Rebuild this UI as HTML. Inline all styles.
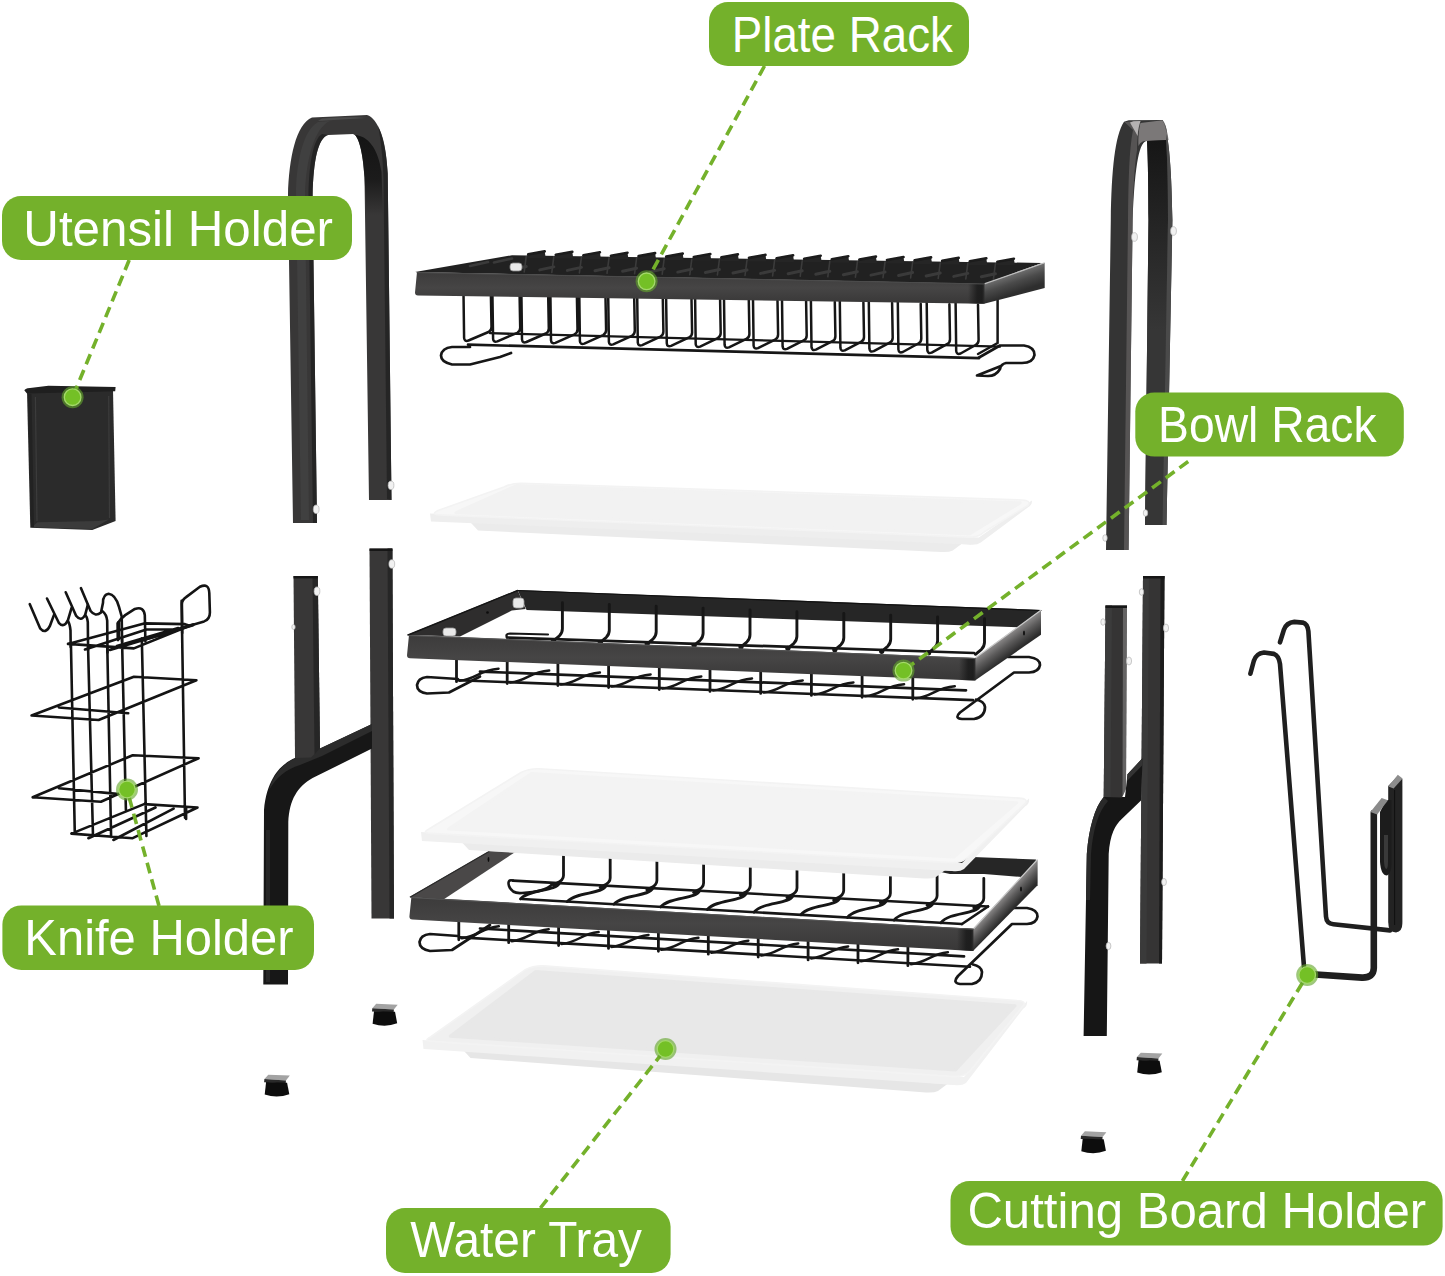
<!DOCTYPE html>
<html lang="en"><head><meta charset="utf-8"><title>Dish Rack Parts</title>
<style>
html,body{margin:0;padding:0;background:#fff;}
body{width:1445px;height:1276px;overflow:hidden;font-family:"Liberation Sans",sans-serif;}
svg{display:block;}
svg text{font-family:"Liberation Sans",sans-serif;fill:#fff;}
</style></head><body>
<svg width="1445" height="1276" viewBox="0 0 1445 1276">
<defs>
<linearGradient id="gBand" x1="0" y1="0" x2="0" y2="1"><stop offset="0" stop-color="#3c3b3b"/><stop offset="0.5" stop-color="#464545"/><stop offset="1" stop-color="#383737"/></linearGradient>
<linearGradient id="gCorner" x1="0" y1="0" x2="1" y2="0"><stop offset="0" stop-color="#1a1a1a" stop-opacity="0"/><stop offset="0.55" stop-color="#1a1a1a" stop-opacity="0.85"/><stop offset="0.85" stop-color="#1a1a1a" stop-opacity="0.9"/><stop offset="1" stop-color="#2a2a2a" stop-opacity="0.7"/></linearGradient>
</defs>
<g id="archL">
<path d="M353,134 C360,136 366,150 368,178 L371,230 L386,230 L386,160 C383,135 374,120 366,116 Z" fill="#1b1b1b"/>
<path d="M293,523 L288,195 C289,158 296,124 312,117.4 L367,115 C378,118 386,140 387.7,173.6 L391.5,500 L369,500 L364.5,177.5 C363,150 358,135 353.3,133.9 L328,134.9 C318,138 313.5,160 312.6,195 L317,523 Z" fill="#383737"/>
<path d="M296,190 C297,158 304,130 318,122 L330,121 C314,128 306,160 305,195 L309,520 L301,520 Z" fill="#424242" opacity="0.8"/>
<path d="M312.6,195 C313.5,160 318,138 328,134.9 L322,134 C313,139 309,165 308.5,195 L313,523 L317,523 Z" fill="#1f1f1f" opacity="0.8"/>
<path d="M383.5,180 L387,499 L391.5,500 L387.7,173.6 C386.5,150 383,135 378,126 C381,140 383,160 383.5,180 Z" fill="#242424" opacity="0.9"/>
<path d="M318,121 L366,118 C360,117 340,117 322,118.5 Z" fill="#555" opacity="0.7"/>
<linearGradient id="gInL" gradientUnits="userSpaceOnUse" x1="0" y1="135" x2="0" y2="215"><stop offset="0" stop-color="#141414" stop-opacity="1"/><stop offset="0.55" stop-color="#141414" stop-opacity="0.8"/><stop offset="1" stop-color="#141414" stop-opacity="0"/></linearGradient>
<path d="M355,135 C368,136 378,148 381.5,172 L383,215 L366.5,215 L364.5,177.5 C363,152 359,139 355,135 Z" fill="url(#gInL)"/>
</g>
<ellipse cx="316.2" cy="509.3" rx="2.9" ry="4.3" fill="#f1f1f1" stroke="#b5b5b5" stroke-width="0.7"/>
<ellipse cx="391" cy="485.3" rx="2.9" ry="4.3" fill="#f1f1f1" stroke="#b5b5b5" stroke-width="0.7"/>
<g id="archR">
<path d="M1106,550 L1110.8,220 C1111.5,170 1115,135 1124,121.8 L1128.8,120.3 L1162.7,119.9 C1168,130 1171.5,160 1172.4,220 L1166.5,525 L1145,525 L1148.5,220 C1148.3,180 1148,160 1147,141 C1140,141 1135,160 1132.6,220 L1128.6,550 Z" fill="#343434"/>
<path d="M1140.5,123 L1162.5,120.3 C1166,126 1168,134 1168.5,140 L1146.2,141 C1142,141 1140,143 1138.5,146 C1138,138 1139,128 1140.5,123 Z" fill="#7b7878"/>
<path d="M1124.5,122 L1140.5,121 C1138,130 1137,140 1137,150 C1134.5,165 1133,190 1132.6,220 L1128.6,550 L1124,550 L1128,220 C1128.5,180 1129,150 1133,130 Z" fill="#5d5b5b" opacity="0.85"/>
<path d="M1133.5,121.3 L1140.5,121 C1139,125 1138,130 1137.6,136 C1135,131 1132,126 1130,122.5 Z" fill="#b5b2b2"/>
<linearGradient id="gInR" gradientUnits="userSpaceOnUse" x1="0" y1="140" x2="0" y2="330"><stop offset="0" stop-color="#161616"/><stop offset="1" stop-color="#363636"/></linearGradient>
<path d="M1147,141 L1166,140 C1167.5,160 1168,190 1168,220 L1162.5,525 L1145,525 L1148.5,220 C1148.3,180 1148,160 1147,141 Z" fill="url(#gInR)"/>
<path d="M1166,140 C1168,130 1166,125 1162.7,119.9 C1168,130 1171.5,160 1172.4,220 L1166.5,525 L1162.5,525 L1168,220 C1168,190 1167.5,160 1166,140 Z" fill="#4a4a4a"/>
</g>
<ellipse cx="1134.5" cy="237" rx="2.9" ry="4.3" fill="#f1f1f1" stroke="#b5b5b5" stroke-width="0.7"/>
<ellipse cx="1173.5" cy="231" rx="2.9" ry="4.3" fill="#f1f1f1" stroke="#b5b5b5" stroke-width="0.7"/>
<ellipse cx="1145.5" cy="513" rx="2.2" ry="3.3" fill="#f1f1f1" stroke="#b5b5b5" stroke-width="0.7"/>
<ellipse cx="1105" cy="538" rx="2.2" ry="3.3" fill="#f1f1f1" stroke="#b5b5b5" stroke-width="0.7"/>
<g id="legL">
<path d="M369.5,548.6 L392.4,548.6 L394,918.6 L371.5,918.6 Z" fill="#383737"/>
<path d="M387.5,548.6 L392.4,548.6 L394,918.6 L389.5,918.6 Z" fill="#262626"/>
<path d="M372,724 L320,748.6 L295,758 C283,763 267,776 264,810 L263.3,984.5 L288,984.5 L288.3,822 C289.5,800 297,787 312.6,778 L372,748.6 Z" fill="#171717"/>
<path d="M372,724 L320,748.6 L296,758 C286,762 274,772 269,790 C276,778 286,769 300,765 L322,756 L372,731 Z" fill="#2c2c2c"/>
<path d="M266,830 L266,982 L270,982 L270,830 Z" fill="#262626"/>
<path d="M293.5,576 L317.8,576 L320,748.6 L311,757.5 L295,758 Z" fill="#383737"/>
<path d="M312.5,576 L317.8,576 L320,748.6 L314.5,754.5 Z" fill="#262626"/>
<path d="M293.5,576 L317.8,576 L317.8,578.4 L293.5,578.4 Z" fill="#161616"/>
<path d="M369.5,548.6 L392.4,548.6 L392.4,551 L369.5,551 Z" fill="#161616"/>
</g>
<ellipse cx="317" cy="591.2" rx="2.9" ry="4.3" fill="#f1f1f1" stroke="#b5b5b5" stroke-width="0.7"/>
<ellipse cx="391.8" cy="564" rx="2.9" ry="4.3" fill="#f1f1f1" stroke="#b5b5b5" stroke-width="0.7"/>
<ellipse cx="293.5" cy="627" rx="1.7" ry="2.5" fill="#f1f1f1" stroke="#b5b5b5" stroke-width="0.7"/>
<g id="legR">
<path d="M1143,576 L1164.5,576 L1162,963.6 L1140,963.6 Z" fill="#353434"/>
<path d="M1143,576 L1149,576 L1146.5,963.6 L1140,963.6 Z" fill="#3a3a3a"/>
<path d="M1160.5,576 L1164.5,576 L1162,963.6 L1159,963.6 Z" fill="#1c1c1c"/>
<path d="M1142.6,758 L1127.5,774.3 L1125,797 L1103.7,797 C1095,807 1089,827 1086.8,854 L1083.6,1036 L1106.8,1036 L1108.7,854 C1110,835 1115,825 1122,818.8 L1141,800.4 Z" fill="#161616"/>
<path d="M1142.6,758 L1127.5,774.3 L1127,781 L1142.6,765 Z" fill="#333"/>
<path d="M1103.7,797 C1095,807 1089,827 1086.8,854 L1086,900 L1090,900 L1091,854 C1093,830 1098,812 1108,801 Z" fill="#2a2a2a"/>
<path d="M1105.5,605.5 L1127,605.5 L1126,789 L1122,797.5 L1103.7,797 Z" fill="#353434"/>
<path d="M1105.5,605.5 L1112,605.5 L1110.5,797 L1103.7,797 Z" fill="#3b3b3b"/>
<path d="M1123,605.5 L1127,605.5 L1126,789 L1122.5,796 Z" fill="#8a8a8a" opacity="0.55"/>
<path d="M1105.5,605.5 L1127,605.5 L1127,608 L1105.5,608 Z" fill="#161616"/>
<path d="M1143,576 L1164.5,576 L1164.5,578.5 L1143,578.5 Z" fill="#161616"/>
</g>
<ellipse cx="1103" cy="622" rx="2.2" ry="3.3" fill="#f1f1f1" stroke="#b5b5b5" stroke-width="0.7"/>
<ellipse cx="1141.5" cy="592" rx="2.2" ry="3.3" fill="#f1f1f1" stroke="#b5b5b5" stroke-width="0.7"/>
<ellipse cx="1166" cy="628" rx="2.6" ry="4" fill="#f1f1f1" stroke="#b5b5b5" stroke-width="0.7"/>
<ellipse cx="1129" cy="661" rx="2.6" ry="4" fill="#f1f1f1" stroke="#b5b5b5" stroke-width="0.7"/>
<ellipse cx="1164" cy="882" rx="2.4" ry="3.6" fill="#f1f1f1" stroke="#b5b5b5" stroke-width="0.7"/>
<ellipse cx="1108.5" cy="946" rx="2.4" ry="3.6" fill="#f1f1f1" stroke="#b5b5b5" stroke-width="0.7"/>
<path d="M376.2,1003.8 l21.5,0.9 l-3.8,4.9 l-21.6,-1.4 z" fill="#a3a3a3"/>
<path d="M372.3,1008.2 l21.6,1.4 l-0.3,3 l-21.6,-1.2 z" fill="#2a2a2a"/>
<path d="M374,1011.2 l21,0.6 l2.2,11.5 q-12,4.5 -24.6,0.4 z" fill="#0d0d0d"/>
<path d="M268.3,1074.7 l21.5,0.9 l-3.8,4.9 l-21.6,-1.4 z" fill="#a3a3a3"/>
<path d="M264.4,1079.1 l21.6,1.4 l-0.3,3 l-21.6,-1.2 z" fill="#2a2a2a"/>
<path d="M266.1,1082.1 l21,0.6 l2.2,11.5 q-12,4.5 -24.6,0.4 z" fill="#0d0d0d"/>
<path d="M1140.8,1052.7 l21.5,0.9 l-3.8,4.9 l-21.6,-1.4 z" fill="#a3a3a3"/>
<path d="M1136.9,1057.1 l21.6,1.4 l-0.3,3 l-21.6,-1.2 z" fill="#2a2a2a"/>
<path d="M1138.6,1060.1 l21,0.6 l2.2,11.5 q-12,4.5 -24.6,0.4 z" fill="#0d0d0d"/>
<path d="M1084.9,1131.3 l21.5,0.9 l-3.8,4.9 l-21.6,-1.4 z" fill="#a3a3a3"/>
<path d="M1081,1135.7 l21.6,1.4 l-0.3,3 l-21.6,-1.2 z" fill="#2a2a2a"/>
<path d="M1082.7,1138.7 l21,0.6 l2.2,11.5 q-12,4.5 -24.6,0.4 z" fill="#0d0d0d"/>
<g id="plateRack">
<path d="M463.5,293 L464.1,338 Q464.5,342 468.5,340.5 L488.5,332 Q491.5,330.5 491.5,327 L490.9,295 M492.4,293.5 L493.1,338.8 Q493.4,342.8 497.4,341.3 L517.2,332.8 Q520.2,331.3 520.2,327.8 L519.6,295.5 M521.4,294.1 L522,339.5 Q522.4,343.5 526.4,342 L545.8,333.5 Q548.8,332 548.8,328.5 L548.2,296.1 M550.4,294.7 L551,340.3 Q551.4,344.3 555.4,342.8 L574.5,334.3 Q577.5,332.8 577.5,329.3 L576.9,296.7 M579.3,295.3 L579.9,341.1 Q580.3,345.1 584.3,343.6 L603.1,335.1 Q606.1,333.6 606.1,330.1 L605.5,297.3 M608.2,295.9 L608.9,341.8 Q609.2,345.8 613.2,344.3 L631.8,335.8 Q634.8,334.3 634.8,330.8 L634.2,297.9 M637.2,296.4 L637.8,342.6 Q638.2,346.6 642.2,345.1 L660.4,336.6 Q663.4,335.1 663.4,331.6 L662.8,298.4 M666.1,297 L666.8,343.4 Q667.1,347.4 671.1,345.9 L689.1,337.4 Q692.1,335.9 692.1,332.4 L691.5,299 M695.1,297.6 L695.7,344.1 Q696.1,348.1 700.1,346.6 L717.7,338.1 Q720.7,336.6 720.7,333.1 L720.1,299.6 M724,298.2 L724.6,344.9 Q725,348.9 729,347.4 L746.4,338.9 Q749.4,337.4 749.4,333.9 L748.8,300.2 M753,298.8 L753.6,345.6 Q754,349.6 758,348.1 L775.1,339.6 Q778.1,338.1 778.1,334.6 L777.5,300.8 M782,299.3 L782.6,346.4 Q783,350.4 787,348.9 L803.7,340.4 Q806.7,338.9 806.7,335.4 L806.1,301.3 M810.9,299.9 L811.5,347.2 Q811.9,351.2 815.9,349.7 L832.4,341.2 Q835.4,339.7 835.4,336.2 L834.8,301.9 M839.8,300.5 L840.4,347.9 Q840.8,351.9 844.8,350.4 L861,341.9 Q864,340.4 864,336.9 L863.4,302.5 M868.8,301.1 L869.4,348.7 Q869.8,352.7 873.8,351.2 L889.7,342.7 Q892.7,341.2 892.7,337.7 L892.1,303.1 M897.8,301.7 L898.4,349.5 Q898.8,353.5 902.8,352 L918.3,343.5 Q921.3,342 921.3,338.5 L920.7,303.7 M926.7,302.2 L927.3,350.2 Q927.7,354.2 931.7,352.7 L947,344.2 Q950,342.7 950,339.2 L949.4,304.2 M955.6,302.8 L956.2,351 Q956.6,355 960.6,353.5 L975.6,345 Q978.6,343.5 978.6,340 L978,304.8" fill="none" stroke="#161616" stroke-width="2.5" stroke-linecap="round" stroke-linejoin="round" />
<path d="M997.6,300 L997.6,343 L978,354" fill="none" stroke="#161616" stroke-width="2.5" stroke-linecap="round" stroke-linejoin="round" />
<path d="M468,344.6 L979,358.1" fill="none" stroke="#161616" stroke-width="2.6" stroke-linecap="round" stroke-linejoin="round" />
<path d="M490,333.2 L1000,346.7" fill="none" stroke="#161616" stroke-width="2.3" stroke-linecap="round" stroke-linejoin="round" />
<path d="M511,353 L500,357 L470,364.5 L452,364.5 Q441,362 441,355.5 Q442,348 452,347 L470,347" fill="none" stroke="#161616" stroke-width="2.7" stroke-linecap="round" stroke-linejoin="round" />
<path d="M979,357.5 L1000,345.5 L1024,345.5 Q1034.5,347 1034.5,355 Q1033,363 1022,363 L1006,363 Q1001,364 1000,369 Q996,376 988,376 L977,375.5 L1001,366" fill="none" stroke="#161616" stroke-width="2.7" stroke-linecap="round" stroke-linejoin="round" />
<polygon points="415,272 512,255.2 1042,263 985,284" fill="#212121" />
<polygon points="527.2,254.4 544.7,251.4 545.7,258 527.2,258" fill="#252525" />
<polygon points="554.8,254.8 572.3,251.8 573.3,258.4 554.8,258.4" fill="#252525" />
<polygon points="582.4,255.3 599.9,252.3 600.9,258.9 582.4,258.9" fill="#252525" />
<polygon points="610,255.7 627.5,252.7 628.5,259.3 610,259.3" fill="#252525" />
<polygon points="637.6,256.1 655.1,253.1 656.1,259.7 637.6,259.7" fill="#252525" />
<polygon points="665.2,256.6 682.7,253.6 683.7,260.2 665.2,260.2" fill="#252525" />
<polygon points="692.8,257 710.3,254 711.3,260.6 692.8,260.6" fill="#252525" />
<polygon points="720.4,257.4 737.9,254.4 738.9,261 720.4,261" fill="#252525" />
<polygon points="748,257.9 765.5,254.9 766.5,261.5 748,261.5" fill="#252525" />
<polygon points="775.6,258.3 793.1,255.3 794.1,261.9 775.6,261.9" fill="#252525" />
<polygon points="803.2,258.7 820.7,255.7 821.7,262.3 803.2,262.3" fill="#252525" />
<polygon points="830.8,259.2 848.3,256.2 849.3,262.8 830.8,262.8" fill="#252525" />
<polygon points="858.4,259.6 875.9,256.6 876.9,263.2 858.4,263.2" fill="#252525" />
<polygon points="886,260 903.5,257 904.5,263.6 886,263.6" fill="#252525" />
<polygon points="913.6,260.4 931.1,257.4 932.1,264 913.6,264" fill="#252525" />
<polygon points="941.2,260.9 958.7,257.9 959.7,264.5 941.2,264.5" fill="#252525" />
<polygon points="968.8,261.3 986.3,258.3 987.3,264.9 968.8,264.9" fill="#252525" />
<polygon points="996.4,261.7 1013.9,258.7 1014.9,265.3 996.4,265.3" fill="#252525" />
<path d="M526.2,256.5 L524.2,272 M553.8,256.9 L551.8,272.4 M581.4,257.4 L579.4,272.9 M609,257.8 L607,273.3 M636.6,258.2 L634.6,273.7 M664.2,258.7 L662.2,274.2 M691.8,259.1 L689.8,274.6 M719.4,259.5 L717.4,275 M747,260 L745,275.5 M774.6,260.4 L772.6,275.9 M802.2,260.8 L800.2,276.3 M829.8,261.3 L827.8,276.8 M857.4,261.7 L855.4,277.2 M885,262.1 L883,277.6 M912.6,262.5 L910.6,278 M940.2,263 L938.2,278.5 M967.8,263.4 L965.8,278.9 M995.4,263.8 L993.4,279.3" fill="none" stroke="#3b3b3b" stroke-width="1.6" stroke-linecap="round" stroke-linejoin="round" />
<path d="M512.2,269.5 L526.2,266.5 M539.8,269.9 L553.8,266.9 M567.4,270.4 L581.4,267.4 M595,270.8 L609,267.8 M622.6,271.2 L636.6,268.2 M650.2,271.7 L664.2,268.7 M677.8,272.1 L691.8,269.1 M705.4,272.5 L719.4,269.5 M733,273 L747,270 M760.6,273.4 L774.6,270.4 M788.2,273.8 L802.2,270.8 M815.8,274.3 L829.8,271.3 M843.4,274.7 L857.4,271.7 M871,275.1 L885,272.1 M898.6,275.5 L912.6,272.5 M926.2,276 L940.2,273 M953.8,276.4 L967.8,273.4 M981.4,276.8 L995.4,273.8" fill="none" stroke="#3a3a3a" stroke-width="3" stroke-linecap="round" stroke-linejoin="round" />
<path d="M528.2,254.4 L544.7,251.4 M555.8,254.8 L572.3,251.8 M583.4,255.3 L599.9,252.3 M611,255.7 L627.5,252.7 M638.6,256.1 L655.1,253.1 M666.2,256.6 L682.7,253.6 M693.8,257 L710.3,254 M721.4,257.4 L737.9,254.4 M749,257.9 L765.5,254.9 M776.6,258.3 L793.1,255.3 M804.2,258.7 L820.7,255.7 M831.8,259.2 L848.3,256.2 M859.4,259.6 L875.9,256.6 M887,260 L903.5,257 M914.6,260.4 L931.1,257.4 M942.2,260.9 L958.7,257.9 M969.8,261.3 L986.3,258.3 M997.4,261.7 L1013.9,258.7" fill="none" stroke="#1c1c1c" stroke-width="2.6" stroke-linecap="round" stroke-linejoin="round" />
<path d="M470,266 L488,262 M494,262.5 L512,258.5" fill="none" stroke="#3a3a3a" stroke-width="2.6" stroke-linecap="round" stroke-linejoin="round" />
<rect x="510" y="263" width="12" height="8" rx="3" fill="#e9e9e9" stroke="#888" stroke-width="0.8"/>
<linearGradient id="sg1" gradientUnits="userSpaceOnUse" x1="1014.4" y1="273.3" x2="1020.5" y2="291.2"><stop offset="0" stop-color="#6e6e6e"/><stop offset="0.45" stop-color="#4a4a4a"/><stop offset="1" stop-color="#2e2e2e"/></linearGradient>
<polygon points="984,283.8 1044.7,262.8 1044.7,288 984,303.8" fill="url(#sg1)" />
<path d="M985,283.6 L1044,263" fill="none" stroke="#bdbdbd" stroke-width="1.3" stroke-linecap="round" stroke-linejoin="round" />
<path d="M417,272 L984,283.6 L984,303.8 L418,295.5 Q415,295.5 415,292.5 Z" fill="url(#gBand)"/>
<path d="M968,283.3 L984.6,283.6 L984.6,303.8 L968,303.5 Z" fill="url(#gCorner)"/>
<path d="M417,272.6 L984,284" fill="none" stroke="#4c4c4c" stroke-width="1" stroke-linecap="round" stroke-linejoin="round" />
</g>
<g>
<path d="M466,517.5 L968.8,538.5 L952.8,550.5 Q948.8,552.5 940.8,552 L478,530.5 Z" fill="#ebebeb"/>
<path d="M430,514.5 L978.8,537.5 L1031.8,500.5 Q1032.8,504.5 1027.8,507.5 L980.8,542.5 Q976.8,545.5 968.8,544.5 Z" fill="#eeeeee"/>
<path d="M430,513.5 L970.8,536.5 L970.8,544.5 L431,521.5 Z" fill="#eeeeee"/>
<path d="M438,510.5 L504,487 Q512,483 522,483.3 L1021.8,500 Q1031.8,500.5 1027.8,505.5 L984.8,531.5 Q978.8,537.5 968.8,537.1 L440,514.9 Q430,514.5 438,510.5 Z" fill="#f7f7f7" stroke="#f3f3f3" stroke-width="1.6"/>
<path d="M455.7,512.8 L516.7,485.6 L1020.3,502.8 L969.4,534 Z" fill="#f2f2f2" stroke="#f2f2f2" stroke-width="3" stroke-linejoin="round"/>
</g>
<g id="bowlRack">
<path d="M1008,657 L1029,657 Q1040,658.5 1040,665 Q1039,672 1029,672.5 L1014,672.5 L960,712.5 Q954,718.5 962,719 L974,719 Q985,717 985,707 Q984,701 976,699.5" fill="none" stroke="#161616" stroke-width="2.7" stroke-linecap="round" stroke-linejoin="round" />
<g>
<polygon points="517.6,590 1041,610 1039,628 526.6,610" fill="#262626" />
<path d="M517.6,590.5 L1041,610.5" fill="none" stroke="#111" stroke-width="1.2" stroke-linecap="round" stroke-linejoin="round" />
<polygon points="407,635 517.6,590 525.6,609 511.8,610.5 460,636.5" fill="#2e2d2d" />
<path d="M408,635 L517.6,590.5" fill="none" stroke="#151515" stroke-width="1.4" stroke-linecap="round" stroke-linejoin="round" />
<path d="M562.4,602.7 L562.4,628.8 Q562.4,632.8 559.4,635.8 L553.4,640.8 M609.3,604.5 L609.3,630.3 Q609.3,634.3 606.3,637.3 L600.3,642.3 M656.2,606.3 L656.2,631.8 Q656.2,635.8 653.2,638.8 L647.2,643.8 M703.1,608.1 L703.1,633.3 Q703.1,637.3 700.1,640.3 L694.1,645.3 M750,609.9 L750,634.8 Q750,638.8 747,641.8 L741,646.8 M796.9,611.7 L796.9,636.3 Q796.9,640.3 793.9,643.3 L787.9,648.3 M843.8,613.5 L843.8,637.8 Q843.8,641.8 840.8,644.8 L834.8,649.8 M890.7,615.3 L890.7,639.3 Q890.7,643.3 887.7,646.3 L881.7,651.3 M937.6,617 L937.6,640.8 Q937.6,644.8 934.6,647.8 L928.6,652.8 M984.5,618.8 L984.5,642.3 Q984.5,646.3 981.5,649.3 L975.5,654.3" fill="none" stroke="#161616" stroke-width="2.9" stroke-linecap="round" stroke-linejoin="round" />
<circle cx="553.4" cy="640.8" r="2.6" fill="#161616"/>
<circle cx="600.3" cy="642.3" r="2.6" fill="#161616"/>
<circle cx="647.2" cy="643.8" r="2.6" fill="#161616"/>
<circle cx="694.1" cy="645.3" r="2.6" fill="#161616"/>
<circle cx="741" cy="646.8" r="2.6" fill="#161616"/>
<circle cx="787.9" cy="648.3" r="2.6" fill="#161616"/>
<circle cx="834.8" cy="649.8" r="2.6" fill="#161616"/>
<circle cx="881.7" cy="651.3" r="2.6" fill="#161616"/>
<circle cx="928.6" cy="652.8" r="2.6" fill="#161616"/>
<path d="M507,637.5 L974,653" fill="none" stroke="#161616" stroke-width="2.7" stroke-linecap="round" stroke-linejoin="round" />
<path d="M507,637.5 Q505,634 510,633.5 L548,634.5" fill="none" stroke="#161616" stroke-width="2.2" stroke-linecap="round" stroke-linejoin="round" />
<path d="M456.5,656.2 L456.5,681.7 M507.2,658.1 L507.2,683.6 M557.9,660.1 L557.9,685.6 M608.6,662 L608.6,687.5 M659.3,664 L659.3,689.5 M710,665.9 L710,691.4 M760.7,667.9 L760.7,693.4 M811.4,669.9 L811.4,695.4 M862.1,671.8 L862.1,697.3 M912.8,673.8 L912.8,699.3" fill="none" stroke="#161616" stroke-width="2.8" stroke-linecap="round" stroke-linejoin="round" />
<path d="M459.5,680.7 C476.5,679.2 478.5,670.2 498.5,668.7 M510.2,682.6 C527.2,681.1 529.2,672.1 549.2,670.6 M560.9,684.6 C577.9,683.1 579.9,674.1 599.9,672.6 M611.6,686.5 C628.6,685 630.6,676 650.6,674.5 M662.3,688.5 C679.3,687 681.3,678 701.3,676.5 M713,690.4 C730,688.9 732,679.9 752,678.4 M763.7,692.4 C780.7,690.9 782.7,681.9 802.7,680.4 M814.4,694.4 C831.4,692.9 833.4,683.9 853.4,682.4 M865.1,696.3 C882.1,694.8 884.1,685.8 904.1,684.3 M915.8,698.3 C932.8,696.8 934.8,687.8 954.8,686.3" fill="none" stroke="#161616" stroke-width="2.5" stroke-linecap="round" stroke-linejoin="round" />
<path d="M458,680.2 L973,700.1" fill="none" stroke="#161616" stroke-width="2.6" stroke-linecap="round" stroke-linejoin="round" />
<path d="M480,671.6 L966,690.3" fill="none" stroke="#161616" stroke-width="2.7" stroke-linecap="round" stroke-linejoin="round" />
<path d="M480,676.5 L449,692.5 L427,693.5 Q417,692 417,685 Q418,678 427,677 L458,679" fill="none" stroke="#161616" stroke-width="2.7" stroke-linecap="round" stroke-linejoin="round" />
<rect x="513" y="598" width="11" height="10" rx="3" fill="#e9e9e9" stroke="#999" stroke-width="0.8"/>
<rect x="443" y="628" width="13" height="8" rx="3" fill="#e9e9e9" stroke="#999" stroke-width="0.8"/>
<circle cx="487.5" cy="612.5" r="1.3" fill="#0c0c0c"/>
<linearGradient id="sg2" gradientUnits="userSpaceOnUse" x1="1008" y1="634" x2="1018.8" y2="648.8"><stop offset="0" stop-color="#8c8a8a"/><stop offset="0.45" stop-color="#5c5b5b"/><stop offset="1" stop-color="#2c2c2c"/></linearGradient>
<polygon points="975,658 1041,610 1041,634.7 975,680.6" fill="url(#sg2)" />
<path d="M976,657.6 L1040.5,610.6" fill="none" stroke="#c9c9c9" stroke-width="1.2" stroke-linecap="round" stroke-linejoin="round" />
<ellipse cx="1024" cy="633" rx="0.9" ry="2.6" fill="#0a0a0a"/>
<path d="M409,635 L975,658 L975,680.6 L410,658.2 Q407,658.2 407,655.2 Z" fill="url(#gBand)"/>
<path d="M959,657.4 L975.6,658 L975.6,680.6 L959,680 Z" fill="url(#gCorner)"/>
<path d="M409,635.6 L975,658.5" fill="none" stroke="#555" stroke-width="1" stroke-linecap="round" stroke-linejoin="round" />
</g>
<g id="bottomRack">
<path d="M1007,908 L1027,908 Q1037.5,909.5 1037.5,916.5 Q1036.5,923.5 1027,924 L1012,924 L958,976 Q952,983 960,984 L972,984 Q982,982 982,972 Q981,966 973,964.5" fill="none" stroke="#161616" stroke-width="2.7" stroke-linecap="round" stroke-linejoin="round" />
<polygon points="936,871 948,859 973,857 1036,859.4 1034,878 984,874 950,874" fill="#262626" />
<polygon points="409.4,897 489.4,851 515.3,852 443.5,899.5" fill="#4a4848" />
<path d="M410.4,897 L489,851.5" fill="none" stroke="#2a2a2a" stroke-width="1.2" stroke-linecap="round" stroke-linejoin="round" />
<ellipse cx="488.5" cy="859.5" rx="0.9" ry="2.4" fill="#0a0a0a"/>
<path d="M563.5,855.4 L563.5,875.4 C563.5,882.4 555.5,882.4 553.5,884.9 M559.5,883.1 C555.5,891.8 529.5,888.8 520.5,898.9 M610.2,857.9 L610.2,877.9 C610.2,884.9 602.2,884.9 600.2,887.4 M606.2,885.7 C602.2,894.4 576.2,891.4 567.2,901.6 M656.9,860.4 L656.9,880.4 C656.9,887.4 648.9,887.4 646.9,889.9 M652.9,888.2 C648.9,896.9 622.9,893.9 613.9,904.2 M703.6,863 L703.6,883 C703.6,890 695.6,890 693.6,892.5 M699.6,890.8 C695.6,899.4 669.6,896.4 660.6,906.9 M750.3,865.5 L750.3,885.5 C750.3,892.5 742.3,892.5 740.3,895 M746.3,893.3 C742.3,902 716.3,899 707.3,909.5 M797,868.1 L797,888.1 C797,895.1 789,895.1 787,897.6 M793,895.9 C789,904.5 763,901.5 754,912.2 M843.7,870.6 L843.7,890.6 C843.7,897.6 835.7,897.6 833.7,900.1 M839.7,898.4 C835.7,907.1 809.7,904.1 800.7,914.8 M890.4,873.2 L890.4,893.2 C890.4,900.2 882.4,900.2 880.4,902.7 M886.4,901 C882.4,909.6 856.4,906.6 847.4,917.5 M937.1,875.7 L937.1,895.7 C937.1,902.7 929.1,902.7 927.1,905.2 M933.1,903.5 C929.1,912.2 903.1,909.2 894.1,920.1 M983.8,878.3 L983.8,898.3 C983.8,905.3 975.8,905.3 973.8,907.8 M979.8,906.1 C975.8,914.7 949.8,911.7 940.8,922.8" fill="none" stroke="#161616" stroke-width="2.8" stroke-linecap="round" stroke-linejoin="round" />
<path d="M513,880.6 L988,906.5" fill="none" stroke="#161616" stroke-width="2.6" stroke-linecap="round" stroke-linejoin="round" />
<path d="M513,880.6 Q507,879 509,886 Q512,894 522,893 Q545,892 552,884.5" fill="none" stroke="#161616" stroke-width="2.6" stroke-linecap="round" stroke-linejoin="round" />
<path d="M522,899 L962,924" fill="none" stroke="#161616" stroke-width="2.6" stroke-linecap="round" stroke-linejoin="round" />
<path d="M988,906.5 L962,924" fill="none" stroke="#161616" stroke-width="2.7" stroke-linecap="round" stroke-linejoin="round" />
<path d="M458.8,913.3 L458.8,939.8 M508.7,916.2 L508.7,942.7 M558.6,919.1 L558.6,945.6 M608.5,921.9 L608.5,948.4 M658.4,924.8 L658.4,951.3 M708.3,927.7 L708.3,954.2 M758.2,930.5 L758.2,957 M808.1,933.4 L808.1,959.9 M858,936.3 L858,962.8 M907.9,939.2 L907.9,965.7" fill="none" stroke="#161616" stroke-width="2.8" stroke-linecap="round" stroke-linejoin="round" />
<path d="M461.8,938.3 C478.8,936.3 480.8,928.3 498.8,926.3 M511.7,941.2 C528.7,939.2 530.7,931.2 548.7,929.2 M561.6,944.1 C578.6,942.1 580.6,934.1 598.6,932.1 M611.5,946.9 C628.5,944.9 630.5,936.9 648.5,934.9 M661.4,949.8 C678.4,947.8 680.4,939.8 698.4,937.8 M711.3,952.7 C728.3,950.7 730.3,942.7 748.3,940.7 M761.2,955.5 C778.2,953.5 780.2,945.5 798.2,943.5 M811.1,958.4 C828.1,956.4 830.1,948.4 848.1,946.4 M861,961.3 C878,959.3 880,951.3 898,949.3 M910.9,964.2 C927.9,962.2 929.9,954.2 947.9,952.2" fill="none" stroke="#161616" stroke-width="2.5" stroke-linecap="round" stroke-linejoin="round" />
<path d="M460,937.4 L970,966.7" fill="none" stroke="#161616" stroke-width="2.6" stroke-linecap="round" stroke-linejoin="round" />
<path d="M480,928.5 L964,956.4" fill="none" stroke="#161616" stroke-width="2.7" stroke-linecap="round" stroke-linejoin="round" />
<path d="M490,925 L452,950 L430,951 Q419.5,949 419.5,942 Q420.5,935 430,934 L458,936" fill="none" stroke="#161616" stroke-width="2.7" stroke-linecap="round" stroke-linejoin="round" />
<linearGradient id="sg3" gradientUnits="userSpaceOnUse" x1="1005.3" y1="894.1" x2="1016.4" y2="904.4"><stop offset="0" stop-color="#8c8a8a"/><stop offset="0.45" stop-color="#5c5b5b"/><stop offset="1" stop-color="#2c2c2c"/></linearGradient>
<polygon points="973,928.8 1037.6,859.4 1037.6,885.3 973,951" fill="url(#sg3)" />
<path d="M974,928.4 L1037,860" fill="none" stroke="#c9c9c9" stroke-width="1.2" stroke-linecap="round" stroke-linejoin="round" />
<ellipse cx="1021" cy="889" rx="0.9" ry="2.6" fill="#0a0a0a"/>
<path d="M411.4,897 L973,928.8 L973,951 L412.4,919.6 Q409.4,919.6 409.4,916.6 Z" fill="url(#gBand)"/>
<path d="M957,927.9 L973.6,928.8 L973.6,951 L957,950.1 Z" fill="url(#gCorner)"/>
<path d="M411,897.6 L973,929.2" fill="none" stroke="#555" stroke-width="1" stroke-linecap="round" stroke-linejoin="round" />
</g>
<g>
<path d="M457,837 L952,865 L936,877 Q932,879 924,878.5 L469,850 Z" fill="#ebebeb"/>
<path d="M421,833 L962,863 L1029,798.6 Q1030,803.6 1025,806.6 L964,869 Q960,872 952,871 Z" fill="#f0f0f0"/>
<path d="M421,832 L954,862 L954,871 L422,841 Z" fill="#f0f0f0"/>
<path d="M429,829 L521,772.5 Q529,768.5 539,768.8 L1019,798.1 Q1029,798.6 1025,803.6 L968,857 Q962,863 952,862.6 L431,833.4 Q421,833 429,829 Z" fill="#f7f7f7" stroke="#f3f3f3" stroke-width="1.6"/>
<path d="M448.5,828.9 L531.5,773.6 L1016.8,802.7 L953.9,857.1 Z" fill="#f3f3f3" stroke="#f3f3f3" stroke-width="3" stroke-linejoin="round"/>
</g>
<g>
<path d="M458.5,1045 L954,1079 L938,1091 Q934,1093 926,1092.5 L470.5,1058 Z" fill="#e6e6e6"/>
<path d="M422.5,1041 L964,1077 L1027,1001 Q1028,1006 1023,1009 L966,1083 Q962,1086 954,1085 Z" fill="#f1f1f1"/>
<path d="M422.5,1040 L956,1076 L956,1085 L423.5,1049 Z" fill="#f1f1f1"/>
<path d="M430.5,1037 L525.3,969.6 Q533.3,965.6 543.3,965.9 L1017,1000.5 Q1027,1001 1023,1006 L970,1071 Q964,1077 954,1076.6 L432.5,1041.4 Q422.5,1041 430.5,1037 Z" fill="#f0f0f0" stroke="#f3f3f3" stroke-width="1.6"/>
<path d="M450.2,1036.2 L535.5,971.6 L1015.1,1005.8 L955.6,1070 Z" fill="#e8e8e8" stroke="#e8e8e8" stroke-width="3" stroke-linejoin="round"/>
</g>
<g id="utensil">
<path d="M27,392 L113,390 L115.6,521 L92.3,530 L30.3,527.7 Z" fill="#2b2b2b"/>
<path d="M37.4,522.2 L97.8,520.9 L108.7,519.5 L92.3,529 L32,527.2 Z" fill="#3b3b3b"/>
<path d="M35.4,397 L37,521 M108.7,396 L109.5,518" stroke="#3c3c3c" stroke-width="1.2" fill="none"/>
<path d="M28,394 L31,527 L34,527 L31.5,394 Z" fill="#222"/>
<path d="M24.4,390.6 Q24.4,388.5 30,388 L48.4,385.8 L115.6,387.1 L115.2,391.3 L27,393.6 Z" fill="#1f1f1f"/>
</g>
<g id="knife">
<path d="M70.9,642.7 L74.8,833.6 M88,645 L93,835.9 M107.3,647.3 L111.1,837 M122,638.2 L125.9,809.8 M141.8,638.2 L146.4,835.9 M181.6,600.7 L185,817.7 M68,643.9 L144.1,623.4 L185,624.1 L189.5,625.7 L133.9,648.4 L68,643.9 M85,649.5 L146.4,629.5 L179.3,629.5 M116.8,646.1 L178.2,628 M110,650 L173.6,630.9 M31.6,715.5 L133.9,676.8 L196.4,680.2 L98.6,720 L31.6,715.5 M58.9,707.5 L128.2,713.2 M32.7,797.3 L132.7,755.2 L198.6,758.2 L100.9,801.8 L32.7,797.3 M58.9,788.2 L116.8,793.9 M71.4,833.6 L144.1,804.1 L197.5,807.5 L132.7,838.2 L71.4,833.6 M88.4,838.2 L155.5,807.5 M113.4,840 L173.6,808.6 M186.1,807.5 L186.1,818.9" fill="none" stroke="#141414" stroke-width="2.6" stroke-linecap="round" stroke-linejoin="round" />
<path d="M29.7,604.1 L40.1,628.3 Q45.6,634.5 49.8,626.2 L53.9,615.1" fill="none" stroke="#141414" stroke-width="2.6" stroke-linecap="round" stroke-linejoin="round" />
<path d="M47,598.5 L58.8,622.8 Q63.6,628.3 67.8,620.7 L71.5,608.2" fill="none" stroke="#141414" stroke-width="2.6" stroke-linecap="round" stroke-linejoin="round" />
<path d="M65.7,592.3 L76.1,615.8 Q80.9,622.1 85.1,615.1 L87.8,604.8" fill="none" stroke="#141414" stroke-width="2.6" stroke-linecap="round" stroke-linejoin="round" />
<path d="M80.9,588.1 L90.6,611 Q95.4,617.2 101,612.4 L103,602.7 Q103,594.4 108.6,593.7 Q115.5,594.4 119,606.8 L121.7,616.5 L122.1,641.4" fill="none" stroke="#141414" stroke-width="2.6" stroke-linecap="round" stroke-linejoin="round" />
<path d="M70.7,647 L70.5,630.4 Q69.8,623.4 67.8,620.7" fill="none" stroke="#141414" stroke-width="2.6" stroke-linecap="round" stroke-linejoin="round" />
<path d="M88.1,649.7 L87.8,622.1 Q87.1,616.5 85.1,615.1" fill="none" stroke="#141414" stroke-width="2.6" stroke-linecap="round" stroke-linejoin="round" />
<path d="M107.5,652.5 L107.2,620.7 Q106.5,614.4 102.5,611.3" fill="none" stroke="#141414" stroke-width="2.6" stroke-linecap="round" stroke-linejoin="round" />
<path d="M118,640.1 L117.7,623.4 Q119.7,619.3 125.2,615.1 L134.9,608.9 Q143.9,606.1 144.8,615.1 L145.4,641.4" fill="none" stroke="#141414" stroke-width="2.6" stroke-linecap="round" stroke-linejoin="round" />
<path d="M118.5,638.7 L118.5,622.8" fill="none" stroke="#141414" stroke-width="3.6" stroke-linecap="round" stroke-linejoin="round" />
<path d="M182.2,633.1 L181.9,604.1 Q181.9,599.9 186.1,597.1 L199.9,586.8 Q208.9,582.6 209.3,593 L209.9,612.4 Q209.9,619.3 204.1,621.4 L181.9,627.9" fill="none" stroke="#141414" stroke-width="2.6" stroke-linecap="round" stroke-linejoin="round" />
<path d="M141.8,640.1 L193,624.8" fill="none" stroke="#141414" stroke-width="3.4" stroke-linecap="round" stroke-linejoin="round" />
</g>
<g id="cutting">
<path d="M1280,642.3 L1283.9,629.8 Q1286.4,622.6 1294.3,621.9 L1302.7,622.6 Q1307.4,623.8 1308.4,631.3 L1326,916.6 Q1326.5,923.5 1333.4,924.3 L1390,930.4" fill="none" stroke="#1f1f1f" stroke-width="4.6" stroke-linecap="round" stroke-linejoin="round" />
<path d="M1388.2,786 L1388.2,922 Q1388.2,932.5 1396,932.5 Q1402.4,931.5 1402.4,923 L1402.4,779 L1397.5,776.5 Z" fill="#232323"/>
<path d="M1388.4,786.5 L1397.8,774.8 L1402.6,778.6 L1393.6,788.4 Z" fill="#8d8d8d"/>
<path d="M1394.6,790 L1394.6,925" stroke="#101010" stroke-width="1" fill="none"/>
<path d="M1380,812 L1380,862 Q1381,875.5 1387,875.5 Q1391.5,874 1391.5,862 L1391.5,800 L1386,800 Z" fill="#1c1c1c"/>
<path d="M1384,835 L1384,862 Q1384.5,869 1386.5,869 Q1388,868 1388,862 L1388,835 Z" fill="#3a3a3a"/>
<path d="M1304.6,973.7 L1362,977.6 Q1373.6,978 1373.8,968 L1373.8,813" fill="none" stroke="#1f1f1f" stroke-width="6.6" stroke-linecap="round" stroke-linejoin="round" />
<path d="M1370.4,812 L1381.6,798 L1388,800.2 L1377.2,814.4 Z" fill="#8a8a8a"/>
<path d="M1250.4,673.7 L1253.8,661 Q1256,653.5 1264,652.5 L1273.9,653.9 Q1279,656 1280,664 L1304,966.8 Q1304.6,973.7 1312,974.3 L1340,976" fill="none" stroke="#1f1f1f" stroke-width="4.6" stroke-linecap="round" stroke-linejoin="round" />
</g>
<line x1="764.5" y1="66" x2="646.6" y2="281.3" stroke="#74b12b" stroke-width="3.6" stroke-dasharray="10.8 6.2"/>
<line x1="129.2" y1="260" x2="72.6" y2="397.2" stroke="#74b12b" stroke-width="3.6" stroke-dasharray="10.8 6.2"/>
<line x1="1188.2" y1="461.5" x2="903.5" y2="670.6" stroke="#74b12b" stroke-width="3.6" stroke-dasharray="10.8 6.2"/>
<line x1="159" y1="906" x2="127" y2="789.5" stroke="#74b12b" stroke-width="3.6" stroke-dasharray="10.8 6.2"/>
<line x1="540.4" y1="1208" x2="665.5" y2="1049" stroke="#74b12b" stroke-width="3.6" stroke-dasharray="10.8 6.2"/>
<line x1="1182.4" y1="1181" x2="1307.2" y2="975" stroke="#74b12b" stroke-width="3.6" stroke-dasharray="10.8 6.2"/>
<circle cx="646.6" cy="281.3" r="11" fill="#62a42c" opacity="0.62"/>
<circle cx="646.6" cy="281.3" r="8.3" fill="#74c026" stroke="#a4d96a" stroke-width="1.3"/>
<circle cx="72.6" cy="397.2" r="11" fill="#62a42c" opacity="0.62"/>
<circle cx="72.6" cy="397.2" r="8.3" fill="#74c026" stroke="#a4d96a" stroke-width="1.3"/>
<circle cx="903.5" cy="670.6" r="11" fill="#62a42c" opacity="0.62"/>
<circle cx="903.5" cy="670.6" r="8.3" fill="#74c026" stroke="#a4d96a" stroke-width="1.3"/>
<circle cx="127" cy="789.5" r="11" fill="#62a42c" opacity="0.62"/>
<circle cx="127" cy="789.5" r="8.3" fill="#74c026" stroke="#a4d96a" stroke-width="1.3"/>
<circle cx="665.5" cy="1049" r="11" fill="#62a42c" opacity="0.62"/>
<circle cx="665.5" cy="1049" r="8.3" fill="#74c026" stroke="#a4d96a" stroke-width="1.3"/>
<circle cx="1307.2" cy="975" r="11" fill="#62a42c" opacity="0.62"/>
<circle cx="1307.2" cy="975" r="8.3" fill="#74c026" stroke="#a4d96a" stroke-width="1.3"/>
<rect x="709" y="2" width="260" height="64" rx="19" ry="19" fill="#74b12b"/>
<text x="731.7" y="52" font-size="50" textLength="221.3" lengthAdjust="spacingAndGlyphs">Plate Rack</text>
<rect x="2" y="196" width="350" height="64" rx="19" ry="19" fill="#74b12b"/>
<text x="23.3" y="245.6" font-size="50" textLength="309.7" lengthAdjust="spacingAndGlyphs">Utensil Holder</text>
<rect x="1135.3" y="392.5" width="268.5" height="64.1" rx="19" ry="19" fill="#74b12b"/>
<text x="1158.1" y="442" font-size="50" textLength="218.5" lengthAdjust="spacingAndGlyphs">Bowl Rack</text>
<rect x="2.4" y="905.4" width="311.6" height="64.6" rx="19" ry="19" fill="#74b12b"/>
<text x="24.3" y="954.8" font-size="50" textLength="269.3" lengthAdjust="spacingAndGlyphs">Knife Holder</text>
<rect x="386" y="1208" width="284.6" height="65" rx="19" ry="19" fill="#74b12b"/>
<text x="410.2" y="1257" font-size="50" textLength="231.8" lengthAdjust="spacingAndGlyphs">Water Tray</text>
<rect x="950.5" y="1181" width="492.1" height="64.6" rx="19" ry="19" fill="#74b12b"/>
<text x="967.4" y="1228" font-size="50" textLength="458.7" lengthAdjust="spacingAndGlyphs">Cutting Board Holder</text>
</svg>
</body></html>
